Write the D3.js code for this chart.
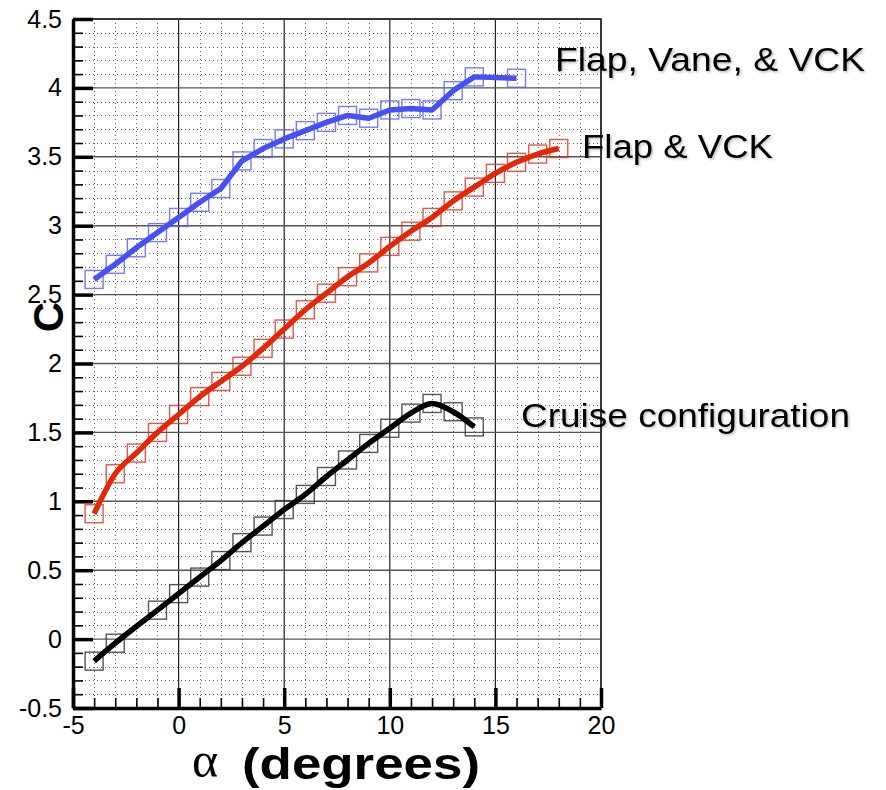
<!DOCTYPE html>
<html>
<head>
<meta charset="utf-8">
<script src="https://cdn.jsdelivr.net/npm/d3@7"></script>
<style>
  body { margin: 0; background: #fff; }
  text { font-family: "Liberation Sans", Arial, sans-serif; }
</style>
</head>
<body>
<script>
// lift coefficient vs angle of attack, three configurations
const alphaVane = [-4, -3, -2, -1, 0, 1, 2, 3, 4, 5, 6, 7, 8, 9, 10, 11, 12, 13, 14, 16];
const clVane = [2.61, 2.72, 2.84, 2.95, 3.06, 3.17, 3.27, 3.47, 3.56, 3.63, 3.69, 3.75, 3.80, 3.78, 3.84, 3.85, 3.84, 3.98, 4.08, 4.07];

const alphaFlap = [-4, -3, -2, -1, 0, 1, 2, 3, 4, 5, 6, 7, 8, 9, 10, 11, 12, 13, 14, 15, 16, 17, 18];
const clFlap = [0.91, 1.20, 1.35, 1.50, 1.63, 1.76, 1.87, 1.98, 2.11, 2.25, 2.39, 2.51, 2.63, 2.73, 2.85, 2.96, 3.06, 3.18, 3.28, 3.38, 3.46, 3.52, 3.56];

const alphaCruise = [-4, -3, -1, 0, 1, 2, 3, 4, 5, 6, 7, 8, 9, 10, 11, 12, 13, 14];
const clCruise = [-0.16, -0.03, 0.21, 0.33, 0.45, 0.57, 0.70, 0.82, 0.94, 1.05, 1.18, 1.30, 1.42, 1.53, 1.64, 1.71, 1.65, 1.54];

const seriesNames = ['Flap, Vane, & VCK', 'Flap & VCK', 'Cruise configuration'];

const xTicks = [-5, 0, 5, 10, 15, 20];
const yTicks = [-0.5, 0, 0.5, 1, 1.5, 2, 2.5, 3, 3.5, 4, 4.5];

let width = 886,
    height = 790;

let margin = { top: 19, bottom: 82, left: 73, right: 285 };

let svg = d3.select('body')
  .append('svg')
    .attr('width', width)
    .attr('height', height);

let defs = svg.append('defs');
let shadow = defs.append('filter').attr('id', 'shadow')
  .attr('x', '-5%').attr('y', '-20%').attr('width', '110%').attr('height', '140%');
shadow.append('feDropShadow')
  .attr('dx', 1.5).attr('dy', 1.5).attr('stdDeviation', 1)
  .attr('flood-color', '#000').attr('flood-opacity', 0.25);

let xScale = d3.scaleLinear()
  .domain([-5, 20])
  .range([margin.left, width - margin.right]);

let yScale = d3.scaleLinear()
  .domain([-0.5, 4.5])
  .range([height - margin.bottom, margin.top]);

let x0 = xScale.range()[0], x1 = xScale.range()[1];
let y0 = yScale.range()[0], y1 = yScale.range()[1];

// snap thin grid lines onto the pixel grid
let px = v => Math.round(v) + 0.5;

// minor grid (dotted)
let minorX = d3.range(-5, 21, 1).filter(d => d % 5 !== 0);
let minorY = d3.range(-5, 46, 1).filter(d => d % 5 !== 0).map(d => d / 10);

let grid = svg.append('g');

grid.selectAll('.minor-x')
  .data(minorX)
  .enter().append('line')
    .attr('x1', d => px(xScale(d))).attr('x2', d => px(xScale(d)))
    .attr('y1', y1).attr('y2', y0)
    .attr('stroke', '#666')
    .attr('stroke-width', 1)
    .attr('stroke-dasharray', '1,3');

grid.selectAll('.minor-y')
  .data(minorY)
  .enter().append('line')
    .attr('x1', x0).attr('x2', x1)
    .attr('y1', d => px(yScale(d))).attr('y2', d => px(yScale(d)))
    .attr('stroke', '#666')
    .attr('stroke-width', 1)
    .attr('stroke-dasharray', '1,3');

// major grid (solid)
grid.selectAll('.major-x')
  .data(xTicks)
  .enter().append('line')
    .attr('x1', d => xScale(d)).attr('x2', d => xScale(d))
    .attr('y1', y1).attr('y2', y0)
    .attr('stroke', '#222')
    .attr('stroke-width', 1.2);

grid.selectAll('.major-y')
  .data(yTicks)
  .enter().append('line')
    .attr('x1', x0).attr('x2', x1)
    .attr('y1', d => yScale(d)).attr('y2', d => yScale(d))
    .attr('stroke', '#555')
    .attr('stroke-width', 1.4);

// frame top / right
svg.append('path')
  .attr('d', `M${x0},${y1}H${x1}V${y0}`)
  .attr('fill', 'none')
  .attr('stroke', '#222')
  .attr('stroke-width', 1.5);

// axes: major ticks pointing inward
let xAxis = svg.append('g')
  .attr('transform', `translate(0,${y0})`)
  .call(d3.axisBottom(xScale).tickValues(xTicks).tickSize(-20).tickSizeOuter(0).tickFormat(d => String(d)));

let xMinor = svg.append('g')
  .attr('transform', `translate(0,${y0})`)
  .call(d3.axisBottom(xScale).tickValues(minorX).tickSize(-10).tickSizeOuter(0).tickFormat(''));

let yAxis = svg.append('g')
  .attr('transform', `translate(${x0},0)`)
  .call(d3.axisLeft(yScale).tickValues(yTicks).tickSize(-20).tickSizeOuter(0).tickPadding(11).tickFormat(d => String(d)));

let yMinor = svg.append('g')
  .attr('transform', `translate(${x0},0)`)
  .call(d3.axisLeft(yScale).tickValues(minorY).tickSize(-10).tickSizeOuter(0).tickFormat(''));

[xAxis, yAxis].forEach(a => {
  a.select('.domain').attr('stroke', '#000').attr('stroke-width', 3.5);
  a.selectAll('.tick line').attr('stroke', '#000').attr('stroke-width', 3.5);
  a.selectAll('.tick text')
    .attr('fill', '#000')
    .style('font-size', '25px')
    .style('font-family', '"Liberation Sans", Arial, sans-serif');
});
[xMinor, yMinor].forEach(a => {
  a.select('.domain').remove();
  a.selectAll('.tick line').attr('stroke', '#000').attr('stroke-width', 1.6);
});
xAxis.selectAll('.tick text').attr('dy', null).attr('y', 26);

// data series
let series = [
  { a: alphaVane, c: clVane, line: '#4650f5', mark: '#5a66f7', curve: d3.curveLinear },
  { a: alphaFlap, c: clFlap, line: '#e3280a', mark: '#e03a26', curve: d3.curveMonotoneX },
  { a: alphaCruise, c: clCruise, line: '#000', mark: '#3a3a3a', curve: d3.curveMonotoneX }
];

let side = 18;

series.forEach(s => {
  let pts = s.a.map((d, i) => [d, s.c[i]]);

  svg.append('g')
    .selectAll('rect')
    .data(pts)
    .enter().append('rect')
      .attr('x', d => xScale(d[0]) - side / 2)
      .attr('y', d => yScale(d[1]) - side / 2)
      .attr('width', side)
      .attr('height', side)
      .attr('fill', 'none')
      .attr('stroke', s.mark)
      .attr('stroke-width', 1.4)
      .attr('stroke-opacity', 0.85);

  svg.append('path')
    .datum(pts)
    .attr('fill', 'none')
    .attr('stroke', s.line)
    .attr('stroke-width', 5.5)
    .attr('stroke-linejoin', 'round')
    .attr('d', d3.line().x(d => xScale(d[0])).y(d => yScale(d[1])).curve(s.curve));
});

// series labels
let labelPos = [
  { x: 555, y: 71, w: 310 },
  { x: 582, y: 158, w: 191 },
  { x: 521, y: 427, w: 329 }
];

svg.selectAll('.series-label')
  .data(seriesNames)
  .enter().append('text')
    .attr('x', (d, i) => labelPos[i].x)
    .attr('y', (d, i) => labelPos[i].y)
    .attr('textLength', (d, i) => labelPos[i].w)
    .attr('lengthAdjust', 'spacingAndGlyphs')
    .attr('filter', 'url(#shadow)')
    .style('font-size', '34px')
    .text(d => d);

// axis titles
svg.append('text')
  .attr('x', 192)
  .attr('y', 777)
  .style('font-family', '"Liberation Serif", "Times New Roman", serif')
  .style('font-size', '50px')
  .text('α');

svg.append('text')
  .attr('x', 242)
  .attr('y', 779)
  .attr('textLength', 238)
  .attr('lengthAdjust', 'spacingAndGlyphs')
  .style('font-size', '44px')
  .style('font-weight', 'bold')
  .text('(degrees)');

svg.append('text')
  .attr('transform', 'translate(63,317) rotate(-90)')
  .attr('text-anchor', 'middle')
  .style('font-size', '42px')
  .style('font-weight', 'bold')
  .text('C');
</script>
</body>
</html>
